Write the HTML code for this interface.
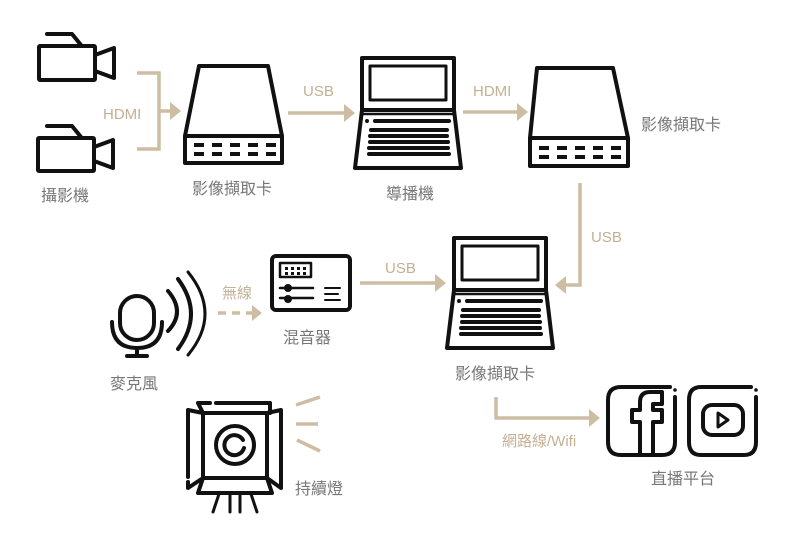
<!DOCTYPE html>
<html><head><meta charset="utf-8"><style>
html,body{margin:0;padding:0;background:#fff}
svg{display:block}
text{font-family:"Liberation Sans","Noto Sans CJK TC",sans-serif}
.l{fill:#777;font-size:16px}
.t{fill:#c4b092;font-size:15px}
.k{fill:none;stroke:#111;stroke-width:4;stroke-linejoin:round;stroke-linecap:round}
.a{fill:none;stroke:#cdbda3;stroke-width:3.5}
.ah{fill:#cdbda3}
</style></head><body>
<svg width="788" height="535" viewBox="0 0 788 535" xmlns="http://www.w3.org/2000/svg">
<g class="k">
<path d="M47 34H72L81 45"/><rect x="39" y="46" width="56" height="34" rx="1"/><path d="M95 55L114 48V78L95 71"/>
<path d="M47 126H72L81 137"/><rect x="38" y="138" width="56" height="33" rx="1"/><path d="M94 147L113 140V168L94 161"/>
</g>
<text class="l" x="41" y="201">攝影機</text>
<path class="a" d="M137 73H159V149H137M159 111H170"/>
<path class="ah" d="M170 102L181 111L170 120Z"/>
<text class="t" x="103" y="119">HDMI</text>
<g class="k"><path d="M199 66H268L282 136H185Z"/><rect x="185" y="136" width="97" height="27"/></g>
<g fill="#111"><rect x="194" y="143" width="10" height="4"/><rect x="212" y="143" width="10" height="4"/><rect x="230" y="143" width="10" height="4"/><rect x="248" y="143" width="10" height="4"/><rect x="266" y="143" width="10" height="4"/>
<rect x="194" y="152" width="10" height="4"/><rect x="212" y="152" width="10" height="4"/><rect x="230" y="152" width="10" height="4"/><rect x="248" y="152" width="10" height="4"/><rect x="266" y="152" width="10" height="4"/></g>
<text class="l" x="192" y="194">影像擷取卡</text>
<path class="a" d="M288 113H345"/><path class="ah" d="M344 104L355 113L344 122Z"/>
<text class="t" x="303" y="96">USB</text>
<defs>
<g id="lap">
<g class="k"><rect x="7" y="0" width="92" height="52"/><rect x="15" y="8" width="76" height="34" stroke-width="3"/><path d="M7 52L0 110H106L99 52" /><path d="M7 56H99" stroke-width="2.5"/></g>
<g fill="#111"><circle cx="12" cy="63" r="2"/><rect x="18" y="61" width="78" height="4" rx="2"/><rect x="14" y="70" width="80" height="4" rx="2"/><rect x="13" y="76" width="81" height="4" rx="2"/><rect x="13" y="82" width="82" height="4" rx="2"/><rect x="12" y="88" width="83" height="4" rx="2"/><rect x="12" y="94" width="84" height="4" rx="2"/></g>
</g>
</defs>
<use href="#lap" x="355" y="58"/>
<text class="l" x="386" y="199">導播機</text>
<path class="a" d="M463 112H518"/><path class="ah" d="M517 103L528 112L517 121Z"/>
<text class="t" x="473" y="96">HDMI</text>
<g class="k"><path d="M537 68H613L628 138H530Z"/><rect x="530" y="138" width="98" height="28"/></g>
<g fill="#111"><rect x="539" y="146" width="10" height="4"/><rect x="557" y="146" width="10" height="4"/><rect x="575" y="146" width="10" height="4"/><rect x="593" y="146" width="10" height="4"/><rect x="611" y="146" width="10" height="4"/>
<rect x="539" y="155" width="10" height="4"/><rect x="557" y="155" width="10" height="4"/><rect x="575" y="155" width="10" height="4"/><rect x="593" y="155" width="10" height="4"/><rect x="611" y="155" width="10" height="4"/></g>
<text class="l" x="641" y="130">影像擷取卡</text>
<path class="a" d="M580 183V285H565"/><path class="ah" d="M566 276L555 285L566 294Z"/>
<text class="t" x="591" y="242">USB</text>
<use href="#lap" x="447" y="238"/>
<text class="l" x="455" y="379">影像擷取卡</text>
<path class="a" d="M496 397V418H590"/><path class="ah" d="M589 409L600 418L589 427Z"/>
<text class="t" x="502" y="446">網路線/Wifi</text>
<g class="k" stroke-width="3.5">
<path d="M670 387H621Q608 387 608 400V442Q608 455 621 455H662Q675 455 675 442V397"/>
<path d="M640 455V422H632V410H640V402Q640 392 650 392H662V404H653V410H662V422H653V455"/>
<path d="M751 387H701Q689 387 689 400V442Q689 455 701 455H744Q756 455 756 442V397"/>
<rect x="703" y="405" width="40" height="30" rx="9"/>
</g>
<circle cx="675" cy="390" r="1.8" fill="#111"/><circle cx="756" cy="390" r="1.8" fill="#111"/>
<path d="M718 413L728 420L718 427Z" fill="none" stroke="#111" stroke-width="3" stroke-linejoin="round"/>
<text class="l" x="651" y="484">直播平台</text>
<g class="k" stroke-width="3.5">
<rect x="120" y="296" width="34" height="44" rx="17"/>
<path d="M112 322Q112 348 137 348Q162 348 162 322M137 348V356M127 356H147"/>
<path d="M168 291Q186 312 168 331"/><path d="M178 279Q204 314 178 349"/><path d="M188 272Q222 314 188 355" stroke-width="3"/>
</g>
<text class="l" x="110" y="389">麥克風</text>
<path d="M218 313H252" stroke="#cdbda3" stroke-width="3.5" stroke-dasharray="8 6" fill="none"/><path class="ah" d="M252 305L262 313L252 321Z"/>
<text class="t" x="222" y="298">無線</text>
<g class="k" stroke-width="3.5"><rect x="272" y="256" width="78" height="54" rx="4"/><rect x="280" y="263" width="31" height="14" stroke-width="2.5"/>
<path d="M280 288H313M280 298H313" stroke-width="2.5"/><path d="M325 288H340M325 294H338M325 300H340" stroke-width="2"/></g>
<g fill="#111"><rect x="285" y="267" width="3" height="3"/><rect x="291" y="267" width="3" height="3"/><rect x="297" y="267" width="3" height="3"/><rect x="303" y="267" width="3" height="3"/><rect x="285" y="272" width="3" height="3"/><rect x="291" y="272" width="3" height="3"/><rect x="297" y="272" width="3" height="3"/><rect x="303" y="272" width="3" height="3"/>
<circle cx="288" cy="288" r="4"/><circle cx="288" cy="299" r="4"/></g>
<text class="l" x="283" y="343">混音器</text>
<path class="a" d="M360 283H436"/><path class="ah" d="M435 274L446 283L435 292Z"/>
<text class="t" x="385" y="273">USB</text>
<g class="k" stroke-width="3.2">
<rect x="203" y="413" width="64" height="65"/>
<path d="M198 403H210M216 403H270V413M198 403L203 413"/>
<path d="M188 410L203 413M188 410V477M188 482V488L203 478M267 413L281 410V488L267 478"/>
<path d="M203 478L198 493H272L267 478"/>
<circle cx="235" cy="445" r="19"/><path d="M244 448A10 10 0 1 1 243 440"/>
<path d="M219 494L213 512M230 494V512M240 494V512M251 494L257 512" stroke-width="3"/>
</g>
<path d="M296 405L320 397M296 424H318M297 440L320 451" stroke="#cdbda3" stroke-width="3.5" fill="none"/>
<text class="l" x="295" y="494">持續燈</text>
</svg>
</body></html>
